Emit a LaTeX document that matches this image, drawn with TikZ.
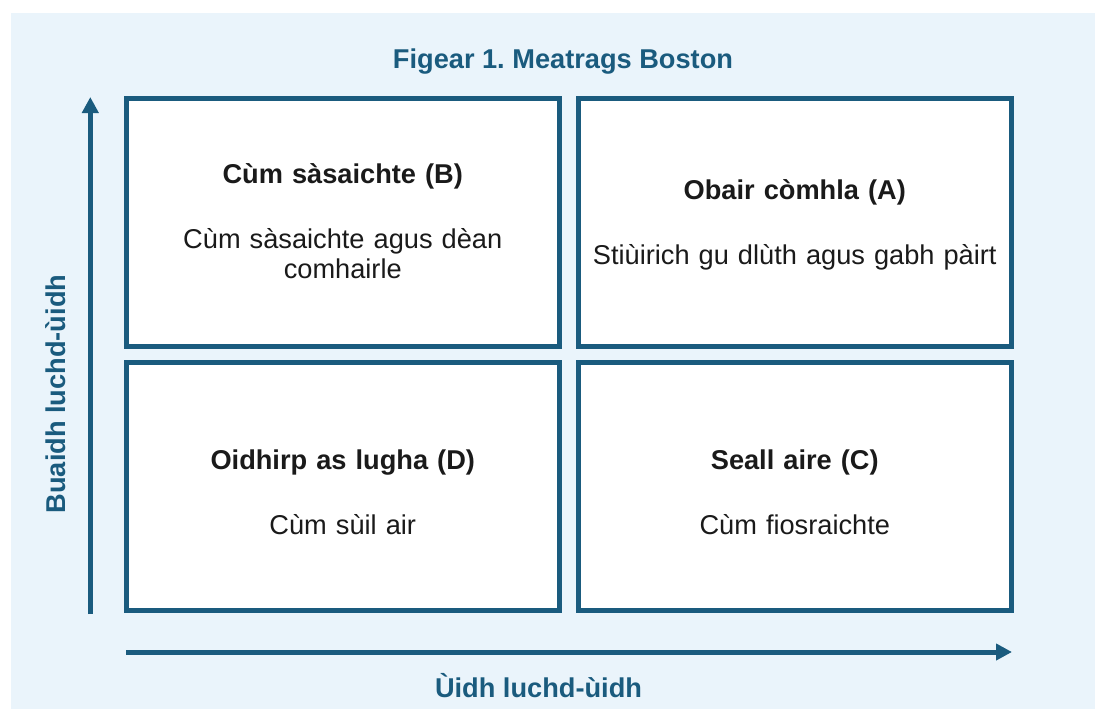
\documentclass[tikz,border=0pt]{standalone}
\usepackage{fontspec}
\setmainfont{Liberation Sans}
\usetikzlibrary{arrows.meta}
\frenchspacing
\definecolor{dblue}{HTML}{1A5B7E}
\definecolor{bgblue}{HTML}{EAF4FB}
\definecolor{txt}{HTML}{1A1A1A}
\tikzset{
  quad/.style={draw=dblue, line width=5pt, fill=white, minimum width=433.5pt, minimum height=248pt, inner sep=0pt},
  quadtext/.style={text=txt, align=center, text width=420pt, font=\fontsize{27.2}{30}\selectfont},
  axis/.style={draw=dblue, line width=5pt, -{Triangle[length=16pt,width=16pt]}},
  axlabel/.style={text=dblue, font=\fontsize{27.2}{30}\selectfont\bfseries},
}
\newcommand{\qhead}[1]{{\bfseries #1}}
\begin{document}
\begin{tikzpicture}[x=1pt,y=-1pt]
\useasboundingbox (0,0) rectangle (1095,709);
\fill[bgblue] (11,13) rectangle (1095,709);
\node[axlabel] (title) at (563,62) {Figear 1. Meatrags Boston};
\node[quad] (B) at (342.75,222) {};
\node[quad] (A) at (794.75,222) {};
\node[quad] (D) at (342.75,486.25) {};
\node[quad] (C) at (794.75,486.25) {};
\node[quadtext] (tB) at ([yshift=1pt]B.center) {\qhead{Cùm sàsaichte (B)}\\[35pt] Cùm sàsaichte agus dèan\\comhairle};
\node[quadtext] (tA) at ([yshift=-3pt]A.center) {\qhead{Obair còmhla (A)}\\[35pt] Stiùirich gu dlùth agus gabh pàirt};
\node[quadtext] (tD) at ([yshift=-6pt]D.center) {\qhead{Oidhirp as lugha (D)}\\[35pt] Cùm sùil air};
\node[quadtext] (tC) at ([yshift=-6pt]C.center) {\qhead{Seall aire (C)}\\[35pt] Cùm fiosraichte};
\coordinate (vs) at (90.3,614);
\coordinate (ve) at (90.3,97);
\coordinate (hs) at (126,652);
\coordinate (he) at (1012,652);
\draw[axis] (vs) -- (ve);
\draw[axis] (hs) -- (he);
\node[axlabel, rotate=90] (ylab) at (56,394) {Buaidh luchd-ùidh};
\node[axlabel] (xlab) at (538.5,686) {Ùidh luchd-ùidh};
\end{tikzpicture}
\end{document}
